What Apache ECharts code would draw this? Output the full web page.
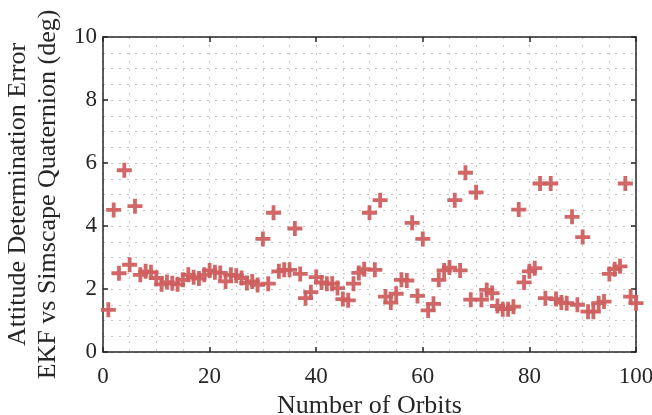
<!DOCTYPE html>
<html>
<head>
<meta charset="utf-8">
<script src="https://cdn.jsdelivr.net/npm/echarts@6/dist/echarts.min.js"></script>
<style>
  html, body { margin: 0; padding: 0; background: #fff; }
  #chart { width: 652px; height: 415px; }
</style>
</head>
<body>
<div id="chart"></div>
<script>
// Orbit index (1..100) and attitude error per orbit, in degrees
const orbits = [];
for (let k = 1; k <= 100; k++) orbits.push(k);

const attitudeError = [
  1.34, 4.51, 2.50, 5.77, 2.77, 4.63, 2.45, 2.56, 2.53, 2.35,
  2.15, 2.22, 2.18, 2.15, 2.29, 2.45, 2.37, 2.33, 2.45, 2.59,
  2.53, 2.51, 2.24, 2.45, 2.42, 2.35, 2.19, 2.24, 2.13, 3.59,
  2.17, 4.42, 2.56, 2.61, 2.61, 3.92, 2.48, 1.71, 1.90, 2.38,
  2.21, 2.17, 2.17, 2.03, 1.68, 1.64, 2.17, 2.51, 2.63, 4.42,
  2.61, 4.82, 1.76, 1.57, 1.85, 2.29, 2.27, 4.10, 1.78, 3.59,
  1.32, 1.53, 2.29, 2.59, 2.68, 4.82, 2.59, 5.69, 1.66, 5.07,
  1.66, 1.97, 1.87, 1.46, 1.36, 1.36, 1.44, 4.52, 2.21, 2.56,
  2.66, 5.35, 1.71, 5.35, 1.68, 1.57, 1.55, 4.29, 1.50, 3.65,
  1.28, 1.28, 1.55, 1.60, 2.48, 2.63, 2.72, 5.35, 1.76, 1.55
];

const xTicks = [0, 20, 40, 60, 80, 100];
const yTicks = [0, 2, 4, 6, 8, 10];

const points = orbits.map((o, i) => [o, attitudeError[i]]);

const FONT = '"Liberation Serif", "Times New Roman", serif';
const AXIS_COLOR = '#262626';
const gridDots = { color: '#c4c4c4', width: 1, type: [2, 6] };

const plusSymbol = 'path://M5.6,0H9.4V5.6H15V9.4H9.4V15H5.6V9.4H0V5.6H5.6Z';

const baseAxis = {
  axisLine: { show: true, onZero: false, lineStyle: { color: AXIS_COLOR, width: 1.5 } },
  axisTick: { show: true, inside: true, length: 5, lineStyle: { color: AXIS_COLOR, width: 1.5 } },
  minorTick: { show: false, splitNumber: 4 },
};

const chart = echarts.init(document.getElementById('chart'), null, { renderer: 'canvas' });
chart.setOption({
  animation: false,
  backgroundColor: '#ffffff',
  grid: { left: 103, right: 16, top: 37, bottom: 63, containLabel: false, outerBoundsMode: 'none' },
  xAxis: [
    Object.assign({}, baseAxis, {
      type: 'value', min: xTicks[0], max: xTicks[xTicks.length - 1], interval: 20,
      position: 'bottom',
      name: 'Number of Orbits', nameLocation: 'middle', nameGap: 37,
      nameTextStyle: { fontFamily: FONT, fontSize: 26, color: AXIS_COLOR },
      axisLabel: { fontFamily: FONT, fontSize: 23, color: AXIS_COLOR, margin: 13 },
      splitLine: { show: true, lineStyle: gridDots },
      minorSplitLine: { show: true, lineStyle: gridDots },
    }),
    Object.assign({}, baseAxis, {
      type: 'value', min: 0, max: 100, interval: 20, position: 'top',
      axisLabel: { show: false }, splitLine: { show: false },
    })
  ],
  yAxis: [
    Object.assign({}, baseAxis, {
      type: 'value', min: yTicks[0], max: yTicks[yTicks.length - 1], interval: 2,
      position: 'left',
      name: 'Attitude Determination Error\nEKF vs Simscape Quaternion (deg)',
      nameLocation: 'middle', nameGap: 31,
      nameTextStyle: { fontFamily: FONT, fontSize: 26, color: AXIS_COLOR, lineHeight: 30 },
      axisLabel: { fontFamily: FONT, fontSize: 23, color: AXIS_COLOR, margin: 6 },
      splitLine: { show: true, lineStyle: gridDots },
      minorSplitLine: { show: true, lineStyle: gridDots },
    }),
    Object.assign({}, baseAxis, {
      type: 'value', min: 0, max: 10, interval: 2, position: 'right',
      axisLabel: { show: false }, splitLine: { show: false },
    })
  ],
  series: [{
    type: 'scatter',
    xAxisIndex: 0, yAxisIndex: 0,
    data: points,
    symbol: plusSymbol,
    symbolSize: 15,
    itemStyle: { color: '#cf5f5f', opacity: 0.95 },
  }]
});
</script>
</body>
</html>
